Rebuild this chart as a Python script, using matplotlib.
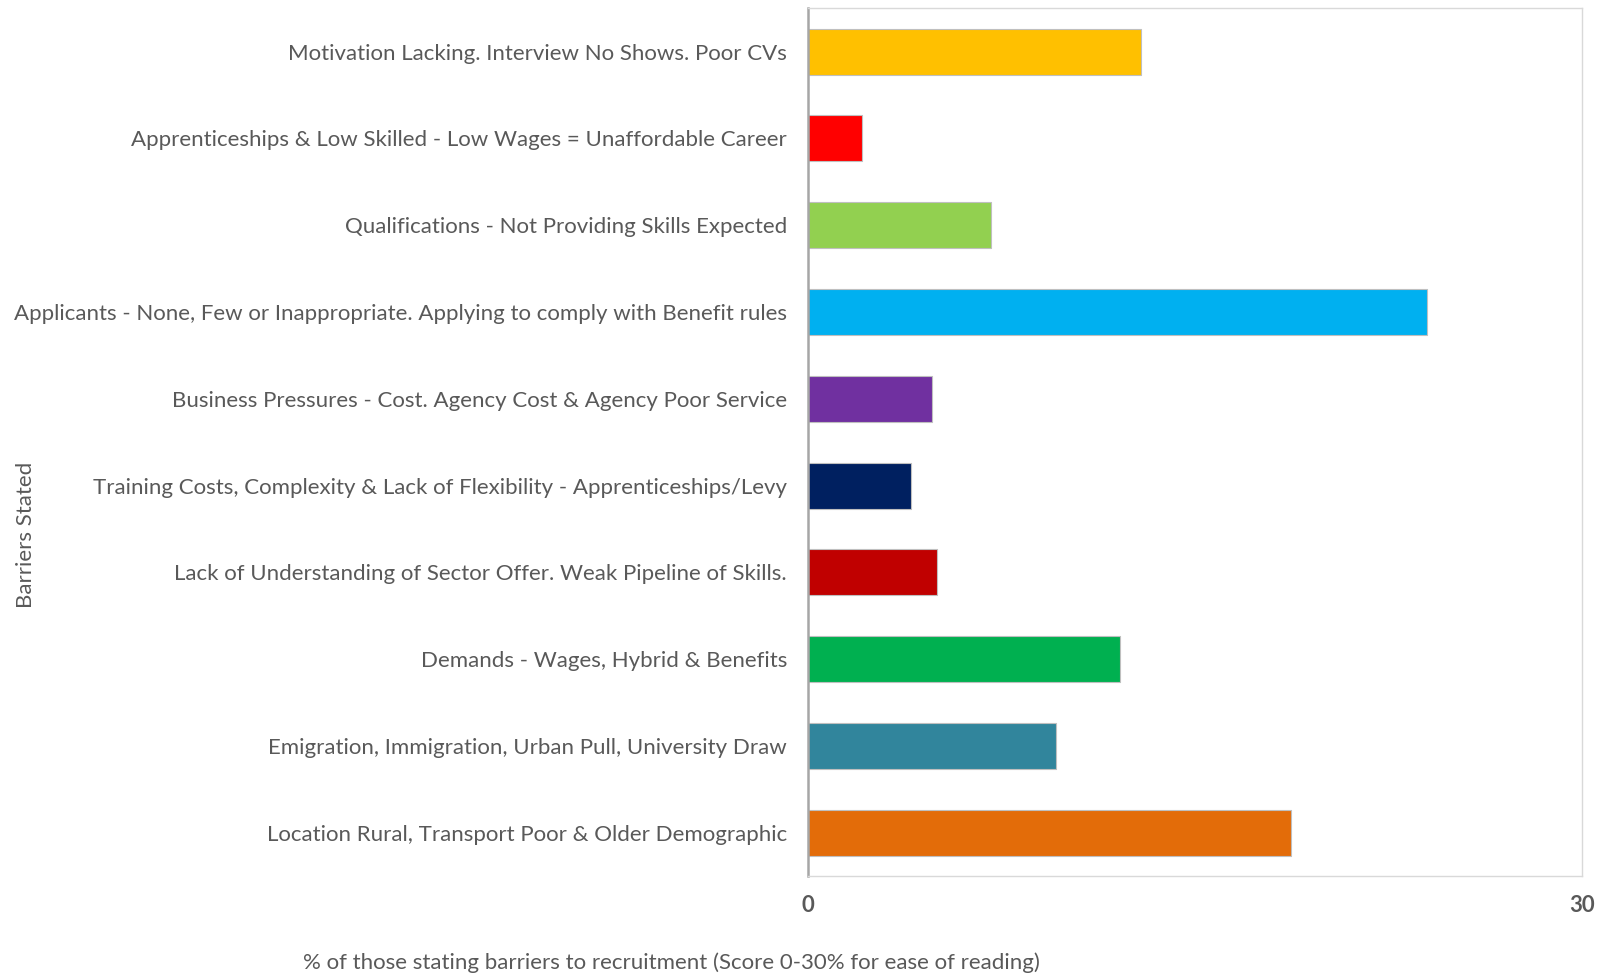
import matplotlib.pyplot as plt

# Barriers to recruitment, listed top to bottom
barriers = [
    'Motivation Lacking. Interview No Shows. Poor CVs',
    'Apprenticeships & Low Skilled - Low Wages = Unaffordable Career',
    'Qualifications - Not Providing Skills Expected',
    'Applicants - None, Few or Inappropriate. Applying to comply with Benefit rules',
    'Business Pressures - Cost. Agency Cost & Agency Poor Service',
    'Training Costs, Complexity & Lack of Flexibility - Apprenticeships/Levy',
    'Lack of Understanding of Sector Offer. Weak Pipeline of Skills.',
    'Demands - Wages, Hybrid & Benefits',
    'Emigration, Immigration, Urban Pull, University Draw',
    'Location Rural, Transport Poor & Older Demographic',
]
scores = [12.9, 2.1, 7.1, 24.0, 4.8, 4.0, 5.0, 12.1, 9.6, 18.7]
colors = ['#FFC000', '#FF0000', '#92D050', '#00B0F0', '#7030A0',
          '#002060', '#C00000', '#00B050', '#31859C', '#E36C09']

plt.rcParams['font.family'] = ['Lato', 'DejaVu Sans']
txt = '#595959'

fig = plt.figure(figsize=(16.03, 9.76), dpi=100)
ax = fig.add_axes([0.504, 0.1025, 0.483, 0.889])

ax.barh(range(len(barriers)), scores, height=0.53, color=colors,
        edgecolor='#BFBFBF', linewidth=0.8)

ax.set_xlim(0, 30)
ax.set_ylim(9.5, -0.5)
ax.set_xticks([0, 30])
ax.set_xticklabels(['0', '30'], fontsize=16, fontweight='bold', color=txt)
ax.set_yticks(range(len(barriers)))
ax.set_yticklabels(barriers, fontsize=16, color=txt)
ax.tick_params(axis='both', length=0)
ax.tick_params(axis='y', pad=15)
ax.tick_params(axis='x', pad=14)

for side in ['top', 'right', 'bottom']:
    ax.spines[side].set_color('#D9D9D9')
    ax.spines[side].set_linewidth(1)
ax.spines['left'].set_color('#A6A6A6')
ax.spines['left'].set_linewidth(1.8)

fig.text(0.419, 0.003, '% of those stating barriers to recruitment (Score 0-30% for ease of reading)',
         ha='center', va='bottom', fontsize=16, color=txt)
fig.text(0.016, 0.452, 'Barriers Stated', rotation=90, ha='center', va='center',
         fontsize=16, color=txt)

fig.savefig('out.png', dpi=100)
